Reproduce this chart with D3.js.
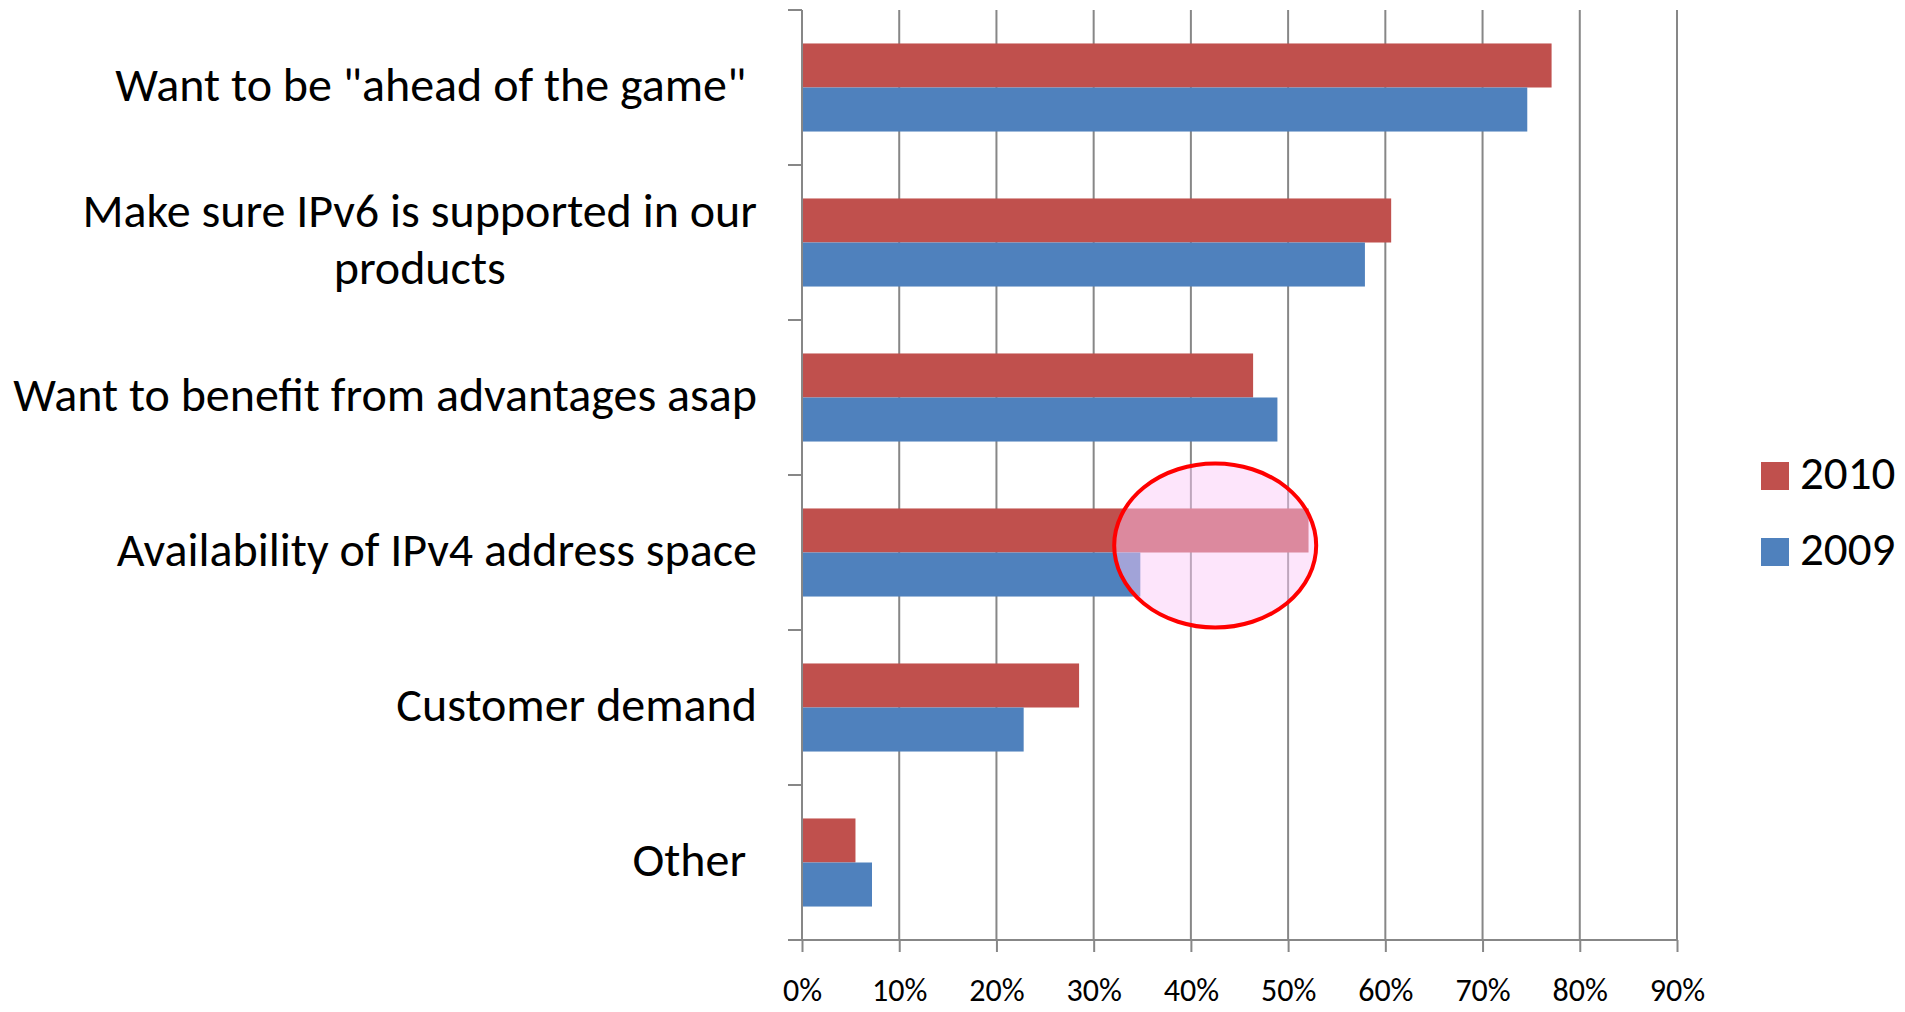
<!DOCTYPE html>
<html>
<head>
<meta charset="utf-8">
<script src="https://cdn.jsdelivr.net/npm/d3@7"></script>
<style>
  body { margin: 0; background: #fff; }
  text { font-family: Carlito, Calibri, Lato, sans-serif; fill: #000; }
</style>
</head>
<body>
<div id="chart"></div>
<script>
// categories, top to bottom (\n = line break in the label)
const categories = [
  'Want to be "ahead of the game" ',
  "Make sure IPv6 is supported in our\nproducts",
  "Want to benefit from advantages asap",
  "Availability of IPv4 address space",
  "Customer demand",
  "Other "
];
const series = ["2010", "2009"];
const values2010 = [0.771, 0.606, 0.464, 0.521, 0.285, 0.055];
const values2009 = [0.746, 0.579, 0.489, 0.348, 0.228, 0.072];
const xTicks = [0, 0.1, 0.2, 0.3, 0.4, 0.5, 0.6, 0.7, 0.8, 0.9];
const colors = ["#C0504D", "#4F81BD"];

const width = 1905, height = 1012;
const plot = { left: 802, right: 1677, top: 10, bottom: 940 };

const svg = d3.select("#chart").append("svg")
    .attr("width", width)
    .attr("height", height);

const x = d3.scaleLinear()
    .domain([0, 0.9])
    .range([plot.left, plot.right]);

const y0 = d3.scaleBand()
    .domain(categories)
    .range([plot.top, plot.bottom])
    .padding(0);

const y1 = d3.scaleBand()
    .domain(series)
    .range([0, y0.bandwidth()])
    .paddingInner(0)
    .paddingOuter(0.76);

// gridlines
svg.append("g")
  .selectAll("line")
  .data(xTicks.slice(1))
  .join("line")
    .attr("x1", d => x(d)).attr("x2", d => x(d))
    .attr("y1", plot.top).attr("y2", plot.bottom)
    .attr("stroke", "#878787")
    .attr("stroke-width", 2);

// bars
const rows = categories.map((c, i) => ({ cat: c, vals: [values2010[i], values2009[i]] }));
const groups = svg.append("g")
  .selectAll("g")
  .data(rows)
  .join("g")
    .attr("transform", d => "translate(0," + y0(d.cat) + ")");

groups.selectAll("rect")
  .data(d => d.vals.map((v, j) => ({ key: series[j], value: v, color: colors[j] })))
  .join("rect")
    .attr("x", x(0))
    .attr("y", d => y1(d.key))
    .attr("width", d => x(d.value) - x(0))
    .attr("height", y1.bandwidth())
    .attr("fill", d => d.color);

// highlight around the IPv4 bars
svg.append("ellipse")
    .attr("cx", x(0.425))
    .attr("cy", y0(categories[3]) + y0.bandwidth() / 2 - 7)
    .attr("rx", 101)
    .attr("ry", 82)
    .attr("fill", "rgb(251,200,247)")
    .attr("fill-opacity", 0.48)
    .attr("stroke", "#FF0000")
    .attr("stroke-width", 4);

// left axis with ticks at category boundaries
const leftAxis = svg.append("g").attr("stroke", "#878787").attr("stroke-width", 2);
leftAxis.append("line")
    .attr("x1", plot.left).attr("x2", plot.left)
    .attr("y1", plot.top).attr("y2", plot.bottom);
leftAxis.selectAll("line.tick")
  .data(categories.map(c => y0(c)).concat([plot.bottom]))
  .join("line")
    .attr("class", "tick")
    .attr("x1", plot.left - 14).attr("x2", plot.left)
    .attr("y1", d => d).attr("y2", d => d);

// bottom axis
const xAxis = svg.append("g")
    .attr("transform", "translate(0," + plot.bottom + ")")
    .call(d3.axisBottom(x).tickValues(xTicks).tickFormat(d3.format(".0%"))
      .tickSize(12).tickSizeOuter(0).tickPadding(26));
xAxis.select(".domain").attr("d", "M" + (plot.left - 14) + ",0H" + plot.right)
    .attr("stroke", "#878787").attr("stroke-width", 2);
xAxis.selectAll(".tick line").attr("stroke", "#878787").attr("stroke-width", 2);
xAxis.selectAll(".tick text")
    .style("font-family", "Carlito, Calibri, Lato, sans-serif")
    .style("font-size", "32px")
    .attr("fill", "#000");

// category labels (multi-line labels are centred on their widest line)
const labelRight = 757;
const labels = svg.append("g")
  .selectAll("text")
  .data(categories)
  .join("text")
    .style("font-size", "48px")
    .style("white-space", "pre");

labels.each(function(d) {
  const lines = d.split("\n");
  const lh = 57;
  const cy = y0(d) + y0.bandwidth() / 2;
  const t = d3.select(this);
  const spans = lines.map((ln, i) => t.append("tspan")
      .attr("y", cy + (i - (lines.length - 1) / 2) * lh)
      .attr("dy", "0.28em")
      .text(ln));
  if (lines.length === 1) {
    t.attr("text-anchor", "end");
    spans[0].attr("x", labelRight);
  } else {
    const w = d3.max(spans, s => s.node().getComputedTextLength());
    t.attr("text-anchor", "middle");
    spans.forEach(s => s.attr("x", labelRight - w / 2));
  }
});

// legend
const legend = svg.append("g")
  .selectAll("g")
  .data(series)
  .join("g")
    .attr("transform", (d, i) => "translate(1761," + (462 + i * 76) + ")");
legend.append("rect")
    .attr("width", 28).attr("height", 28)
    .attr("fill", (d, i) => colors[i]);
legend.append("text")
    .attr("x", 39).attr("y", 14).attr("dy", "0.28em")
    .style("font-size", "47px")
    .text(d => d);
</script>
</body>
</html>
